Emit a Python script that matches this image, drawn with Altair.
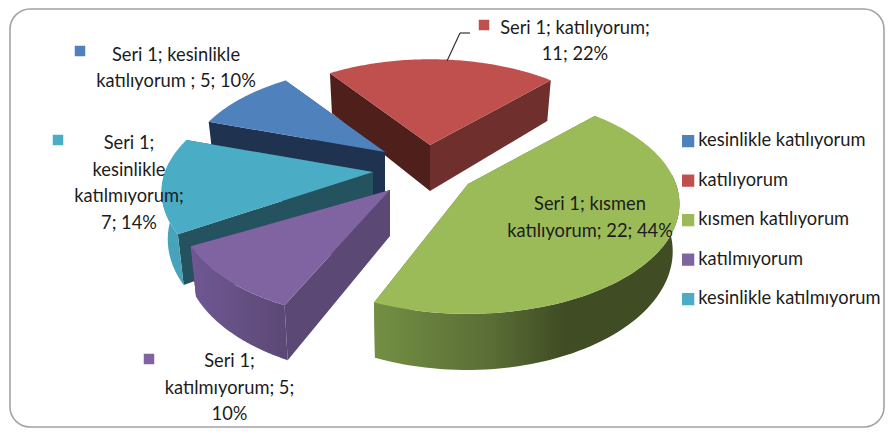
import numpy as np
import pandas as pd
import altair as alt

# ---- chart values ----
categories = ["kesinlikle katılıyorum", "katılıyorum", "kısmen katılıyorum", "katılmıyorum", "kesinlikle katılmıyorum"]
values = [5, 11, 22, 5, 7]
colors = ["#4f81bd", "#c0504d", "#9bbb59", "#8064a2", "#4bacc6"]
label_lines = [
    ["Seri 1; kesinlikle", "katılıyorum ; 5; 10%"],
    ["Seri 1; katılıyorum;", "11; 22%"],
    ["Seri 1; kısmen", "katılıyorum; 22; 44%"],
    ["Seri 1;", "katılmıyorum; 5;", "10%"],
    ["Seri 1;", "kesinlikle", "katılmıyorum;", "7; 14%"],
]

# ---- layout (page pixels) and drawing styles ----
FONT = "Lato"
FS = 18.3
W, H = 877, 420
FIRST_ANGLE = -71.5
AX, AY, PERSP, DEPTH = 208, 106.5, 0.18, 46
VANISH_X, VANISH_K = 410, 0.025
apex = [(385, 152), (430, 145), (468, 184), (390, 190), (373, 172)]
shrink = [0.945, 0.95, 1.0, 1.0, 1.0]
view_turn = [0, 0, 0, 3, 0]
wall_start = ["#1f3350", "#4f1f1c", "#5d7236", "#5c4875", "#25525f"]
wall_end = ["#1f3350", "#6e2f2d", "#5d7236", "#3f3153", "#25525f"]
outer_stops = [
    [("#2a456b", 0), ("#2a456b", 1)],
    [("#6e2f2d", 0), ("#6e2f2d", 1)],
    [("#738f44", 0), ("#5a6e35", 0.38), ("#404c24", 0.62), ("#404c24", 1)],
    [("#6f5893", 0), ("#5c4875", 1)],
    [("#46a3bb", 0), ("#46a3bb", 1)],
]
label_x = [176, 575, 590, 229.5, 129]
label_y = [56, 29, 205, 362, 144]
line_gap = [26, 26, 27, 26.5, 26.7]
marker = [(80, 51), (484, 25), (490, 203), (149, 359), (58, 140)]
draw_order = [1, 0, 4, 3, 2]

x_scale = alt.Scale(domain=[8, 8 + W], range=[0, W], nice=False, zero=False)
y_scale = alt.Scale(domain=[8 + H, 8], range=[H, 0], nice=False, zero=False)
xe = alt.X("x:Q", scale=x_scale, axis=None)
ye = alt.Y("y:Q", scale=y_scale, axis=None)


def project(t, k, a):
    sx, sy = np.sin(t), np.cos(t)
    w = 1 + PERSP * sy
    return a[0] + k * AX * sx / w, a[1] - k * AY * sy / w, DEPTH / w


def below(x):
    return x + (VANISH_X - x) * VANISH_K


def poly(xs, ys, fill):
    df = pd.DataFrame({"x": xs, "y": ys, "i": range(len(xs))})
    return alt.Chart(df).mark_line(fill=fill, stroke="transparent", strokeWidth=0, clip=False).encode(
        x=xe, y=ye, order=alt.Order("i:Q")
    )


total = sum(values)
ang = FIRST_ANGLE
spans = []
for v in values:
    spans.append((ang, ang + 360 * v / total))
    ang += 360 * v / total

layers = []
frame_df = pd.DataFrame({"c": [0]})
layers.append(
    alt.Chart(frame_df).mark_rect(filled=False, stroke="#a3a3a3", strokeWidth=1.6, cornerRadius=20).encode(
        x=alt.value(2), x2=alt.value(876), y=alt.value(1), y2=alt.value(419)
    )
)

for s in draw_order:
    a0, a1 = np.radians(spans[s][0] + view_turn[s]), np.radians(spans[s][1] + view_turn[s])
    t = np.linspace(a0, a1, 90)
    ax, ay = apex[s]
    k = shrink[s]
    px, py, d = project(t, k, apex[s])
    qx = below(px)
    # the two cut walls (the hidden one first)
    end_wall = poly([ax, px[-1], qx[-1], ax], [ay, py[-1], py[-1] + d[-1], ay + DEPTH], wall_end[s])
    start_wall = poly([ax, px[0], qx[0], ax], [ay, py[0], py[0] + d[0], ay + DEPTH], wall_start[s])
    layers += [start_wall, end_wall] if s == 1 else [end_wall, start_wall]
    # the front-facing part of the outer wall
    front = np.cos(t) < 0.1
    if front.any():
        fx, fy, fq, fd = px[front], py[front], qx[front], d[front]
        grad = alt.LinearGradient(
            gradient="linear", x1=0, x2=1, y1=0, y2=0,
            stops=[alt.GradientStop(color=c, offset=o) for c, o in outer_stops[s]],
        )
        layers.append(poly(list(fx) + list(fq[::-1]), list(fy) + list((fy + fd)[::-1]), grad))
    # top surface
    layers.append(poly([ax] + list(px), [ay] + list(py), colors[s]))

legend = alt.Legend(
    title=None, orient="none", legendX=671, legendY=124, symbolType="square", symbolSize=150,
    symbolStrokeWidth=0, labelFont=FONT, labelFontSize=FS, labelColor="#1c1c1c", rowPadding=20.5,
    labelOffset=1, labelLimit=300, padding=0,
)
for s, cat in enumerate(categories):
    df = pd.DataFrame({"kategori": [cat]})
    layers.append(
        alt.Chart(df).mark_square(size=110, opacity=0.25 if s == 2 else 1, filled=True).encode(
            x=alt.value(marker[s][0] - 8), y=alt.value(marker[s][1] - 8),
            color=alt.Color("kategori:N", scale=alt.Scale(domain=categories, range=colors), legend=legend),
        )
    )

for s, lines in enumerate(label_lines):
    for j, line in enumerate(lines):
        df = pd.DataFrame({"t": [line]})
        layers.append(
            alt.Chart(df).mark_text(font=FONT, fontSize=FS, color="#1c1c1c", align="center", baseline="middle").encode(
                x=alt.value(label_x[s] - 8), y=alt.value(label_y[s] + j * line_gap[s] - 8), text="t:N"
            )
        )

lead = pd.DataFrame({"c": [0]})
layers.append(alt.Chart(lead).mark_rule(color="#333333", strokeWidth=1.2).encode(
    x=alt.value(462), x2=alt.value(452), y=alt.value(25), y2=alt.value(25)))
layers.append(alt.Chart(lead).mark_rule(color="#333333", strokeWidth=1.2).encode(
    x=alt.value(452), x2=alt.value(439), y=alt.value(25), y2=alt.value(53)))

chart = alt.layer(*layers).properties(
    width=W, height=H, padding=0, background="white",
    autosize=alt.AutoSizeParams(type="none"),
).configure_view(stroke=None)

chart.save("out.html", embed_options={"renderer": "svg", "actions": False})
